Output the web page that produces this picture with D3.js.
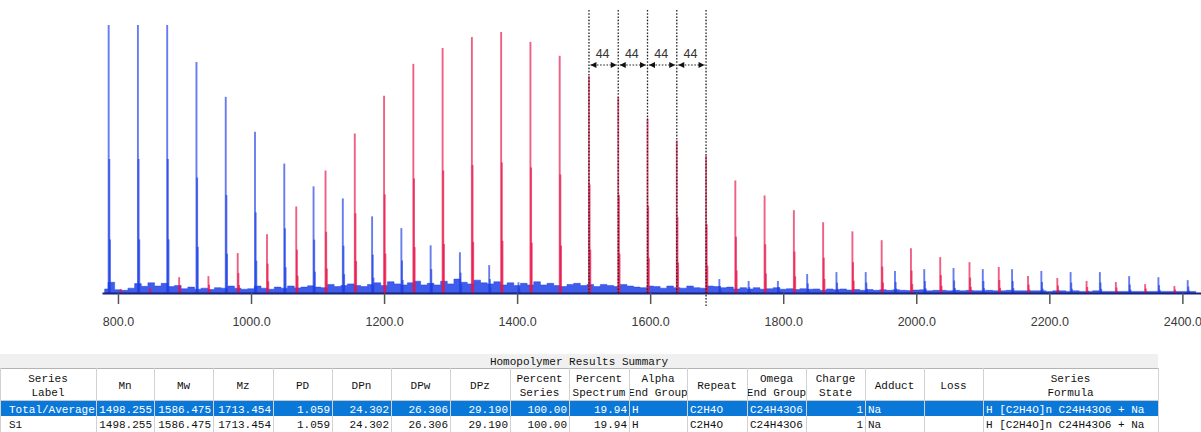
<!doctype html>
<html>
<head>
<meta charset="utf-8"/>
<title>Homopolymer spectrum</title>
<script src="https://d3js.org/d3.v7.min.js"></script>
<style>
  body { margin: 0; background: #fff; }
  svg { display: block; }
</style>
</head>
<body>
<script>
// ---- data ----
// red series H[C2H4O]nC24H43O6+Na, m/z and relative intensity (%)
var redMz  = [804, 848, 892, 936, 980, 1024, 1068, 1112, 1156, 1200, 1244, 1288, 1332, 1376, 1420, 1464, 1508, 1552, 1596,
              1640, 1684, 1728, 1772, 1816, 1860, 1904, 1948, 1992, 2036, 2080, 2124, 2168, 2212, 2256, 2300, 2344, 2388];
var redInt = [1.5, 2, 5.9, 6.3, 14.9, 21.9, 32.3, 45.7, 59.5, 73.6, 85.5, 91.4, 95.5, 97.4, 93.7, 88.5, 81.0, 73.2, 65.1,
              56.9, 51.3, 42.0, 36.4, 30.9, 26.4, 23.0, 19.7, 16.7, 13.4, 11.5, 9.7, 6.3, 5.6, 4.5, 4.1, 3.3, 2.6];

// blue peaks, low mass end
var blueMz  = [786, 830, 874, 918, 962, 1006, 1050, 1094, 1138, 1182, 1226, 1270, 1314, 1358, 1402];
var blueInt = [100, 100, 100, 86.2, 73.2, 60.2, 48.3, 39.8, 35.3, 28.6, 24.2, 17.8, 15.2, 10.4, 4];

// small blue peaks, high mass end
var blue2Mz  = [1704, 1748, 1792, 1836, 1880, 1924, 1968, 2012, 2056, 2100, 2144, 2188, 2232, 2276, 2320, 2364, 2408];
var blue2Int = [5.2, 4.5, 4.5, 7.1, 7.8, 7.8, 8.2, 8.9, 9.3, 8.9, 8.9, 8.2, 7.8, 7.8, 6.3, 5.9, 4.8];

// isotope pattern under each peak (m, m+1, m+2)
var isoShift = [0, 1, 2];
var isoRatio = [1, 0.5, 0.2];

// baseline noise [m/z, level %]
var noise = [
 [780,1.5],[790,4],[800,1.2],[810,1],[820,1.8],[830,3.5],[840,2.5],[850,3.8],[860,2.6],[870,3.6],
 [880,2.4],[890,2.8],[900,1.6],[910,2.2],[920,1.4],[930,1.8],[940,1.3],[950,2],[960,1.8],[970,2.6],
 [980,1.8],[990,1.4],[1000,1.6],[1010,2.6],[1020,1.8],[1030,1.4],[1040,2.2],[1050,1.8],[1060,2.6],[1070,1.9],
 [1080,2.2],[1090,2.7],[1100,2.2],[1110,2],[1120,3.2],[1130,2.4],[1140,2.8],[1150,3.4],[1160,2.8],[1170,2.4],
 [1180,3.2],[1190,3.8],[1200,2.8],[1210,4.2],[1220,3.4],[1230,3],[1240,3.8],[1250,4.4],[1260,3],[1270,3.6],
 [1280,3],[1290,4.4],[1300,3.4],[1310,5.2],[1320,4],[1330,3.4],[1340,4.8],[1350,3.8],[1360,3.4],[1370,4.2],
 [1380,3],[1390,3.8],[1400,2.8],[1410,3.6],[1420,3],[1430,4.2],[1440,3],[1450,3.6],[1460,2.8],[1470,2.4],
 [1480,3.2],[1490,3.6],[1500,2.8],[1510,3.2],[1520,2.4],[1530,3.2],[1540,2.8],[1550,2.4],[1560,3.2],[1570,2.6],
 [1580,2.2],[1590,2],[1600,2.6],[1610,2.4],[1620,1.8],[1630,2.6],[1640,2],[1650,1.8],[1660,2.6],[1670,2],
 [1680,1.8],[1690,2.6],[1700,2.4],[1710,2],[1720,2.2],[1730,1.5],[1740,2],[1750,1.5],[1760,2],[1770,1.4],
 [1780,1.6],[1790,2],[1800,1.4],[1810,1.6],[1820,1.3],[1830,1.6],[1840,1.4],[1850,1.5],[1860,1],[1870,1.5],
 [1880,1.2],[1890,1.5],[1900,1.1],[1910,1.3],[1920,1],[1930,1.3],[1940,1],[1950,1.2],[1960,1],[1970,1.2],
 [1980,1],[1990,0.9],[2000,1.1],[2010,1.2],[2020,0.8],[2030,1],[2040,1],[2050,0.8],[2060,1],[2070,0.8],
 [2080,1],[2090,0.8],[2100,0.8],[2110,1],[2120,0.8],[2130,0.8],[2140,1],[2150,0.8],[2160,0.8],[2170,0.8],
 [2180,0.8],[2190,0.8],[2200,0.6],[2210,0.8],[2220,0.8],[2230,0.6],[2240,0.8],[2250,0.6],[2260,0.6],[2270,0.8],
 [2280,0.6],[2290,0.6],[2300,0.6],[2310,0.6],[2320,0.6],[2330,0.6],[2340,0.6],[2350,0.6],[2360,0.6],[2370,0.6],
 [2380,0.6],[2390,0.6],[2400,0.6],[2410,0.6],[2420,0.6]
];

var tickValues = [800, 1000, 1200, 1400, 1600, 1800, 2000, 2200, 2400];

// repeat unit spacing marks
var markMz = [1508, 1552, 1596, 1640, 1684];
var markLabel = "44";

// results table
var tableTitle = "Homopolymer Results Summary";
var headers = [["Series","Label"],["Mn"],["Mw"],["Mz"],["PD"],["DPn"],["DPw"],["DPz"],["Percent","Series"],
               ["Percent","Spectrum"],["Alpha","End Group"],["Repeat"],["Omega","End Group"],["Charge","State"],
               ["Adduct"],["Loss"],["Series","Formula"]];
var rows = [
  ["Total/Average","1498.255","1586.475","1713.454","1.059","24.302","26.306","29.190","100.00","19.94","H","C2H4O","C24H43O6","1","Na","","H [C2H4O]n C24H43O6 + Na"],
  ["S1","1498.255","1586.475","1713.454","1.059","24.302","26.306","29.190","100.00","19.94","H","C2H4O","C24H43O6","1","Na","","H [C2H4O]n C24H43O6 + Na"]
];

// ---- layout ----
var W = 1201, H = 432;
var svg = d3.select("body").append("svg").attr("width", W).attr("height", H);
svg.append("rect").attr("width", W).attr("height", H).attr("fill", "#fff");

var x = d3.scaleLinear().domain([776, 2428]).range([102, 1201]);
var y = d3.scaleLinear().domain([0, 100]).range([293, 25]);

var BLUE = "#1f3fe6", RED = "#e8144a";

// noise band
svg.append("path")
  .datum(noise)
  .attr("d", d3.area().x(function(d){return x(d[0])}).y0(y(0)).y1(function(d){return y(d[1])}).curve(d3.curveStep))
  .attr("fill", BLUE).attr("fill-opacity", 0.85)
  .attr("stroke", BLUE).attr("stroke-width", 0.8).attr("stroke-opacity", 0.6);

function drawPeaks(mz, inten, color, cls) {
  var lines = [];
  mz.forEach(function(m, i){
    isoShift.forEach(function(s, k){
      lines.push({m: m + s, v: inten[i] * isoRatio[k]});
    });
  });
  svg.selectAll("line." + cls)
    .data(lines)
    .enter().append("line")
    .attr("class", cls)
    .attr("x1", function(d){return x(d.m)})
    .attr("x2", function(d){return x(d.m)})
    .attr("y1", y(0))
    .attr("y2", function(d){return y(d.v)})
    .attr("stroke", color)
    .attr("stroke-width", 1.9)
    .attr("stroke-opacity", 0.68);
}
drawPeaks(blueMz, blueInt, BLUE, "b1");
drawPeaks(blue2Mz, blue2Int, BLUE, "b2");
drawPeaks(redMz, redInt, RED, "r1");

// axis
var axis = d3.axisBottom(x)
  .tickValues(tickValues)
  .tickFormat(d3.format(".1f"))
  .tickSizeInner(11).tickSizeOuter(0).tickPadding(13);
var gx = svg.append("g").attr("transform", "translate(0," + y(0) + ")").call(axis);
gx.select(".domain").attr("stroke", "#1a2478").attr("stroke-width", 2.2);
gx.selectAll(".tick line").attr("stroke", "#555").attr("stroke-width", 1.5);
gx.selectAll(".tick text").attr("fill", "#3a3a3a")
  .style("font-family", "'Liberation Sans', Arial, sans-serif").style("font-size", "12.5px");

// spacing annotation
var defs = svg.append("defs");
defs.append("marker").attr("id", "ah").attr("viewBox", "0 0 10 10")
  .attr("refX", 10).attr("refY", 5).attr("markerWidth", 7).attr("markerHeight", 6)
  .attr("markerUnits", "userSpaceOnUse").attr("orient", "auto-start-reverse")
  .append("path").attr("d", "M0,0L10,5L0,10Z").attr("fill", "#111");

svg.selectAll("line.mark")
  .data(markMz)
  .enter().append("line")
  .attr("class", "mark")
  .attr("x1", function(d){return x(d)}).attr("x2", function(d){return x(d)})
  .attr("y1", 10)
  .attr("y2", function(d,i){return i == markMz.length - 1 ? 306 : y(0)})
  .attr("stroke", "#222").attr("stroke-width", 1.3).attr("stroke-dasharray", "1.6,1.6");

var pairs = d3.pairs(markMz);
svg.selectAll("line.arr")
  .data(pairs)
  .enter().append("line")
  .attr("class", "arr")
  .attr("x1", function(d){return x(d[0]) + 1.5}).attr("x2", function(d){return x(d[1]) - 1.5})
  .attr("y1", 65).attr("y2", 65)
  .attr("stroke", "#222").attr("stroke-width", 1.2).attr("stroke-dasharray", "1.6,1.6")
  .attr("marker-start", "url(#ah)").attr("marker-end", "url(#ah)");
svg.selectAll("text.arr")
  .data(pairs)
  .enter().append("text")
  .attr("class", "arr")
  .attr("x", function(d){return (x(d[0]) + x(d[1])) / 2 - 1})
  .attr("y", 58)
  .attr("text-anchor", "middle")
  .style("font-family", "'Liberation Sans', Arial, sans-serif").style("font-size", "12.5px")
  .attr("fill", "#333")
  .text(markLabel);

// ---- table ----
var colEdges = [0, 96, 154, 213, 273, 332, 391, 450, 510, 569, 629, 687, 747, 806, 865, 924, 983, 1158];
var align = ["start","end","end","end","end","end","end","end","end","end","start","start","start","end","start","start","start"];
var tTop = 354, hTop = 368, hBot = 401, r1Bot = 416, r2Bot = 432;
var tFont = "'Liberation Mono', 'DejaVu Sans Mono', monospace";

var tbl = svg.append("g").style("font-family", tFont).style("font-size", "11px");

tbl.append("rect").attr("x", 0).attr("y", tTop).attr("width", colEdges[colEdges.length-1]).attr("height", hTop - tTop)
  .attr("fill", "#f0f0f0");
tbl.append("text").attr("x", (colEdges[0] + colEdges[colEdges.length-1]) / 2).attr("y", 365)
  .attr("text-anchor", "middle").attr("fill", "#111").text(tableTitle);

tbl.append("rect").attr("x", 0).attr("y", hBot).attr("width", colEdges[colEdges.length-1]).attr("height", r1Bot - hBot)
  .attr("fill", "#0a78d8");

// clip each column
headers.forEach(function(h, i){
  defs.append("clipPath").attr("id", "col" + i)
    .append("rect").attr("x", colEdges[i] + 1).attr("y", hTop).attr("width", colEdges[i+1] - colEdges[i] - 1).attr("height", r2Bot - hTop);
});

// grid
tbl.append("line").attr("x1", 0).attr("x2", colEdges[colEdges.length-1]).attr("y1", hTop + 0.5).attr("y2", hTop + 0.5)
  .attr("stroke", "#b4b4b4");
tbl.append("line").attr("x1", 0).attr("x2", colEdges[colEdges.length-1]).attr("y1", hBot - 0.5).attr("y2", hBot - 0.5)
  .attr("stroke", "#c8c8c8");
tbl.selectAll("line.v")
  .data(colEdges)
  .enter().append("line")
  .attr("class", "v")
  .attr("x1", function(d){return d + 0.5}).attr("x2", function(d){return d + 0.5})
  .attr("y1", hTop).attr("y2", r2Bot)
  .attr("stroke", "#d2d2d2");

headers.forEach(function(h, i){
  var cx = (colEdges[i] + colEdges[i+1]) / 2;
  var g = tbl.append("g").attr("clip-path", "url(#col" + i + ")");
  h.forEach(function(t, k){
    var yy = h.length == 1 ? 389 : 382 + k * 14;
    g.append("text").attr("x", cx).attr("y", yy).attr("text-anchor", "middle").attr("fill", "#111").text(t);
  });
});

rows.forEach(function(r, ri){
  var yy = ri == 0 ? 413 : 428;
  r.forEach(function(t, i){
    var g = tbl.append("g").attr("clip-path", "url(#col" + i + ")");
    var xx;
    if (i == 0) xx = 9;
    else if (align[i] == "end") xx = colEdges[i+1] - 2;
    else xx = colEdges[i] + 3;
    g.append("text").attr("x", xx).attr("y", yy).attr("text-anchor", align[i])
      .attr("fill", ri == 0 ? "#fff" : "#111").text(t);
  });
});
</script>
</body>
</html>
